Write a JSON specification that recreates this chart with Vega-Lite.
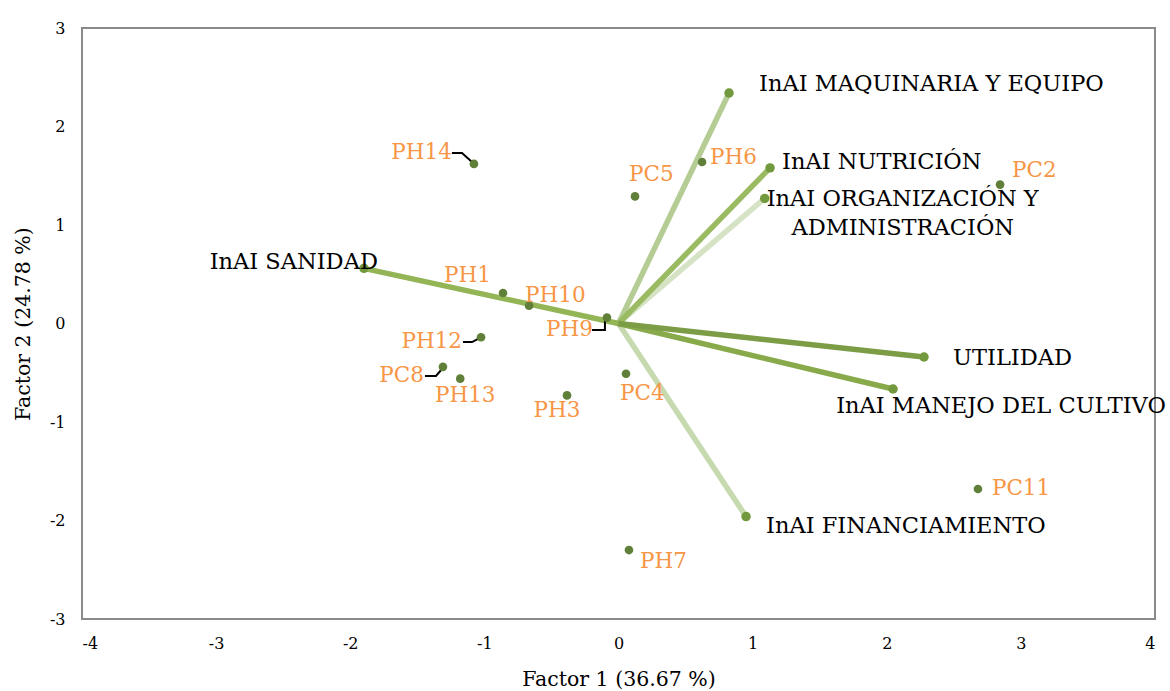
{
  "$schema": "https://vega.github.io/schema/vega-lite/v6.json",
  "width": 1073,
  "height": 591,
  "autosize": {"type": "none"},
  "padding": {"left": 82, "top": 28, "right": 15, "bottom": 72},
  "background": "white",
  "config": {
    "view": {"stroke": "#8a8a8a", "strokeWidth": 2},
    "font": "DejaVu Serif",
    "text": {"font": "DejaVu Serif", "fontSize": 21.5, "baseline": "middle"}
  },
  "datasets": {
    "obs": [
      {"name": "PH14", "f1": -1.078, "f2": 1.62},
      {"name": "PH6", "f1": 0.623, "f2": 1.64},
      {"name": "PC5", "f1": 0.123, "f2": 1.29},
      {"name": "PC2", "f1": 2.845, "f2": 1.41},
      {"name": "PH1", "f1": -0.861, "f2": 0.31},
      {"name": "PH10", "f1": -0.667, "f2": 0.18},
      {"name": "PH9", "f1": -0.086, "f2": 0.06},
      {"name": "PH12", "f1": -1.025, "f2": -0.14},
      {"name": "PC8", "f1": -1.309, "f2": -0.44},
      {"name": "PH13", "f1": -1.18, "f2": -0.56},
      {"name": "PH3", "f1": -0.384, "f2": -0.73},
      {"name": "PC4", "f1": 0.056, "f2": -0.51},
      {"name": "PC11", "f1": 2.68, "f2": -1.68},
      {"name": "PH7", "f1": 0.078, "f2": -2.3}
    ],
    "vars": [
      {"name": "MAQ", "label": "InAI MAQUINARIA Y EQUIPO", "f1": 0.824, "f2": 2.34},
      {"name": "FIN", "label": "InAI FINANCIAMIENTO", "f1": 0.951, "f2": -1.96},
      {"name": "ORG", "label": "InAI ORGANIZACIÓN Y\nADMINISTRACIÓN", "f1": 1.09, "f2": 1.27},
      {"name": "NUT", "label": "InAI NUTRICIÓN", "f1": 1.13, "f2": 1.58},
      {"name": "SAN", "label": "InAI SANIDAD", "f1": -1.898, "f2": 0.56},
      {"name": "MAN", "label": "InAI MANEJO DEL CULTIVO", "f1": 2.047, "f2": -0.665},
      {"name": "UTI", "label": "UTILIDAD", "f1": 2.278, "f2": -0.34}
    ],
    "xticks": [{"v": -3}, {"v": -2}, {"v": -1}, {"v": 1}, {"v": 2}, {"v": 3}],
    "yticks": [{"v": -2}, {"v": -1}, {"v": 1}, {"v": 2}],
    "leaders": [
      {"grp": "PH14", "k": 1, "f1": -1.242, "f2": 1.731},
      {"grp": "PH14", "k": 2, "f1": -1.167, "f2": 1.731},
      {"grp": "PH14", "k": 3, "f1": -1.092, "f2": 1.64},
      {"grp": "PH12", "k": 1, "f1": -1.16, "f2": -0.188},
      {"grp": "PH12", "k": 2, "f1": -1.092, "f2": -0.188},
      {"grp": "PH12", "k": 3, "f1": -1.033, "f2": -0.147},
      {"grp": "PC8", "k": 1, "f1": -1.443, "f2": -0.533},
      {"grp": "PC8", "k": 2, "f1": -1.361, "f2": -0.533},
      {"grp": "PC8", "k": 3, "f1": -1.316, "f2": -0.462},
      {"grp": "PH9", "k": 1, "f1": -0.198, "f2": -0.066},
      {"grp": "PH9", "k": 2, "f1": -0.101, "f2": -0.066},
      {"grp": "PH9", "k": 3, "f1": -0.101, "f2": 0.025}
    ]
  },
  "encoding": {
    "x": {
      "field": "f1", "type": "quantitative",
      "scale": {"domain": [-4, 4], "nice": false, "zero": false},
      "axis": {
        "title": "Factor 1 (36.67 %)", "values": [-4, -3, -2, -1, 0, 1, 2, 3, 4],
        "labelExpr": "'' + datum.value", "domain": false, "ticks": false, "tickSize": 0, "grid": false,
        "labelFont": "DejaVu Serif", "labelFontSize": 16, "labelColor": "#000000", "labelPadding": 16,
        "titleFont": "DejaVu Serif", "titleFontSize": 20.5, "titleFontWeight": "normal", "titleColor": "#000000", "titlePadding": 18
      }
    },
    "y": {
      "field": "f2", "type": "quantitative",
      "scale": {"domain": [-3, 3], "nice": false, "zero": false},
      "axis": {
        "title": "Factor 2 (24.78 %)", "values": [-3, -2, -1, 0, 1, 2, 3],
        "labelExpr": "'' + datum.value", "domain": false, "ticks": false, "tickSize": 0, "grid": false,
        "labelFont": "DejaVu Serif", "labelFontSize": 16, "labelColor": "#000000", "labelPadding": 17,
        "titleFont": "DejaVu Serif", "titleFontSize": 20.5, "titleFontWeight": "normal", "titleColor": "#000000", "titlePadding": 16
      }
    }
  },
  "layer": [
    {
      "data": {"name": "xticks"},
      "mark": {"type": "rule", "color": "#8a8a8a", "strokeWidth": 2},
      "encoding": {"x": {"datum": 0, "type": "quantitative"}, "y": null}
    },
    {
      "data": {"name": "xticks"},
      "mark": {"type": "rule", "color": "#8a8a8a", "strokeWidth": 2},
      "encoding": {"y": {"datum": 0, "type": "quantitative"}, "x": null}
    },
    {
      "data": {"name": "xticks"},
      "mark": {"type": "tick", "orient": "vertical", "color": "#8a8a8a", "size": 15, "thickness": 2, "opacity": 1},
      "encoding": {"x": {"field": "v", "type": "quantitative"}, "y": {"datum": 0, "type": "quantitative"}}
    },
    {
      "data": {"name": "yticks"},
      "mark": {"type": "tick", "orient": "horizontal", "color": "#8a8a8a", "size": 15, "thickness": 2, "opacity": 1},
      "encoding": {"y": {"field": "v", "type": "quantitative"}, "x": {"datum": 0, "type": "quantitative"}}
    },
    {
      "data": {"name": "vars"},
      "mark": {"type": "rule", "strokeWidth": 5.5, "strokeCap": "butt"},
      "encoding": {
        "x": {"datum": 0, "type": "quantitative"},
        "y": {"datum": 0, "type": "quantitative"},
        "x2": {"field": "f1"},
        "y2": {"field": "f2"},
        "color": {
          "field": "name", "type": "nominal", "legend": null,
          "scale": {
            "domain": ["MAQ", "FIN", "ORG", "NUT", "SAN", "MAN", "UTI"],
            "range": ["#b5cd95", "#c6d9af", "#d5e2c3", "#9bbb63", "#93b556", "#88aa4b", "#7c9d46"]
          }
        }
      }
    },
    {
      "data": {"name": "vars"},
      "mark": {"type": "circle", "size": 90, "opacity": 1, "color": "#72993d"},
      "encoding": {}
    },
    {
      "data": {"name": "leaders"},
      "mark": {"type": "line", "color": "#000000", "strokeWidth": 2},
      "encoding": {"detail": {"field": "grp"}, "order": {"field": "k"}}
    },
    {
      "data": {"name": "obs"},
      "mark": {"type": "circle", "size": 75, "opacity": 1, "color": "#60803a"},
      "encoding": {}
    },
    {
      "data": {"name": "obs"},
      "encoding": {"text": {"field": "name"}},
      "layer": [
        {"transform": [{"filter": "datum.name == 'PH14'"}], "mark": {"type": "text", "color": "#f79646", "align": "right", "dx": -22, "dy": -11}},
        {"transform": [{"filter": "datum.name == 'PH6'"}], "mark": {"type": "text", "color": "#f79646", "align": "left", "dx": 8, "dy": -4}},
        {"transform": [{"filter": "datum.name == 'PC5'"}], "mark": {"type": "text", "color": "#f79646", "align": "left", "dx": -6, "dy": -21}},
        {"transform": [{"filter": "datum.name == 'PC2'"}], "mark": {"type": "text", "color": "#f79646", "align": "left", "dx": 12, "dy": -14}},
        {"transform": [{"filter": "datum.name == 'PH1'"}], "mark": {"type": "text", "color": "#f79646", "align": "right", "dx": -12, "dy": -17}},
        {"transform": [{"filter": "datum.name == 'PH10'"}], "mark": {"type": "text", "color": "#f79646", "align": "left", "dx": -4, "dy": -10}},
        {"transform": [{"filter": "datum.name == 'PH9'"}], "mark": {"type": "text", "color": "#f79646", "align": "right", "dx": -14, "dy": 12}},
        {"transform": [{"filter": "datum.name == 'PH12'"}], "mark": {"type": "text", "color": "#f79646", "align": "right", "dx": -19, "dy": 5}},
        {"transform": [{"filter": "datum.name == 'PC8'"}], "mark": {"type": "text", "color": "#f79646", "align": "right", "dx": -19, "dy": 9}},
        {"transform": [{"filter": "datum.name == 'PH13'"}], "mark": {"type": "text", "color": "#f79646", "align": "center", "dx": 5, "dy": 17}},
        {"transform": [{"filter": "datum.name == 'PH3'"}], "mark": {"type": "text", "color": "#f79646", "align": "center", "dx": -10, "dy": 16}},
        {"transform": [{"filter": "datum.name == 'PC4'"}], "mark": {"type": "text", "color": "#f79646", "align": "left", "dx": -6, "dy": 20}},
        {"transform": [{"filter": "datum.name == 'PC11'"}], "mark": {"type": "text", "color": "#f79646", "align": "left", "dx": 14, "dy": 0}},
        {"transform": [{"filter": "datum.name == 'PH7'"}], "mark": {"type": "text", "color": "#f79646", "align": "left", "dx": 11, "dy": 12}}
      ]
    },
    {
      "data": {"name": "vars"},
      "encoding": {"text": {"field": "label"}},
      "layer": [
        {"transform": [{"filter": "datum.name == 'MAQ'"}], "mark": {"type": "text", "color": "#000000", "fontSize": 22.5, "align": "left", "dx": 30, "dy": -9}},
        {"transform": [{"filter": "datum.name == 'NUT'"}], "mark": {"type": "text", "color": "#000000", "fontSize": 22.5, "align": "left", "dx": 12, "dy": -6}},
        {"transform": [{"filter": "datum.name == 'ORG'"}], "mark": {"type": "text", "color": "#000000", "fontSize": 22.5, "align": "center", "dx": 138, "dy": 1, "lineBreak": "\n", "lineHeight": 29}},
        {"transform": [{"filter": "datum.name == 'SAN'"}], "mark": {"type": "text", "color": "#000000", "fontSize": 22.5, "align": "right", "dx": 14, "dy": -6}},
        {"transform": [{"filter": "datum.name == 'UTI'"}], "mark": {"type": "text", "color": "#000000", "fontSize": 22.5, "align": "left", "dx": 29, "dy": 1}},
        {"transform": [{"filter": "datum.name == 'MAN'"}], "mark": {"type": "text", "color": "#000000", "fontSize": 22.5, "align": "center", "dx": 108, "dy": 17}},
        {"transform": [{"filter": "datum.name == 'FIN'"}], "mark": {"type": "text", "color": "#000000", "fontSize": 22.5, "align": "left", "dx": 20, "dy": 9}}
      ]
    }
  ]
}
